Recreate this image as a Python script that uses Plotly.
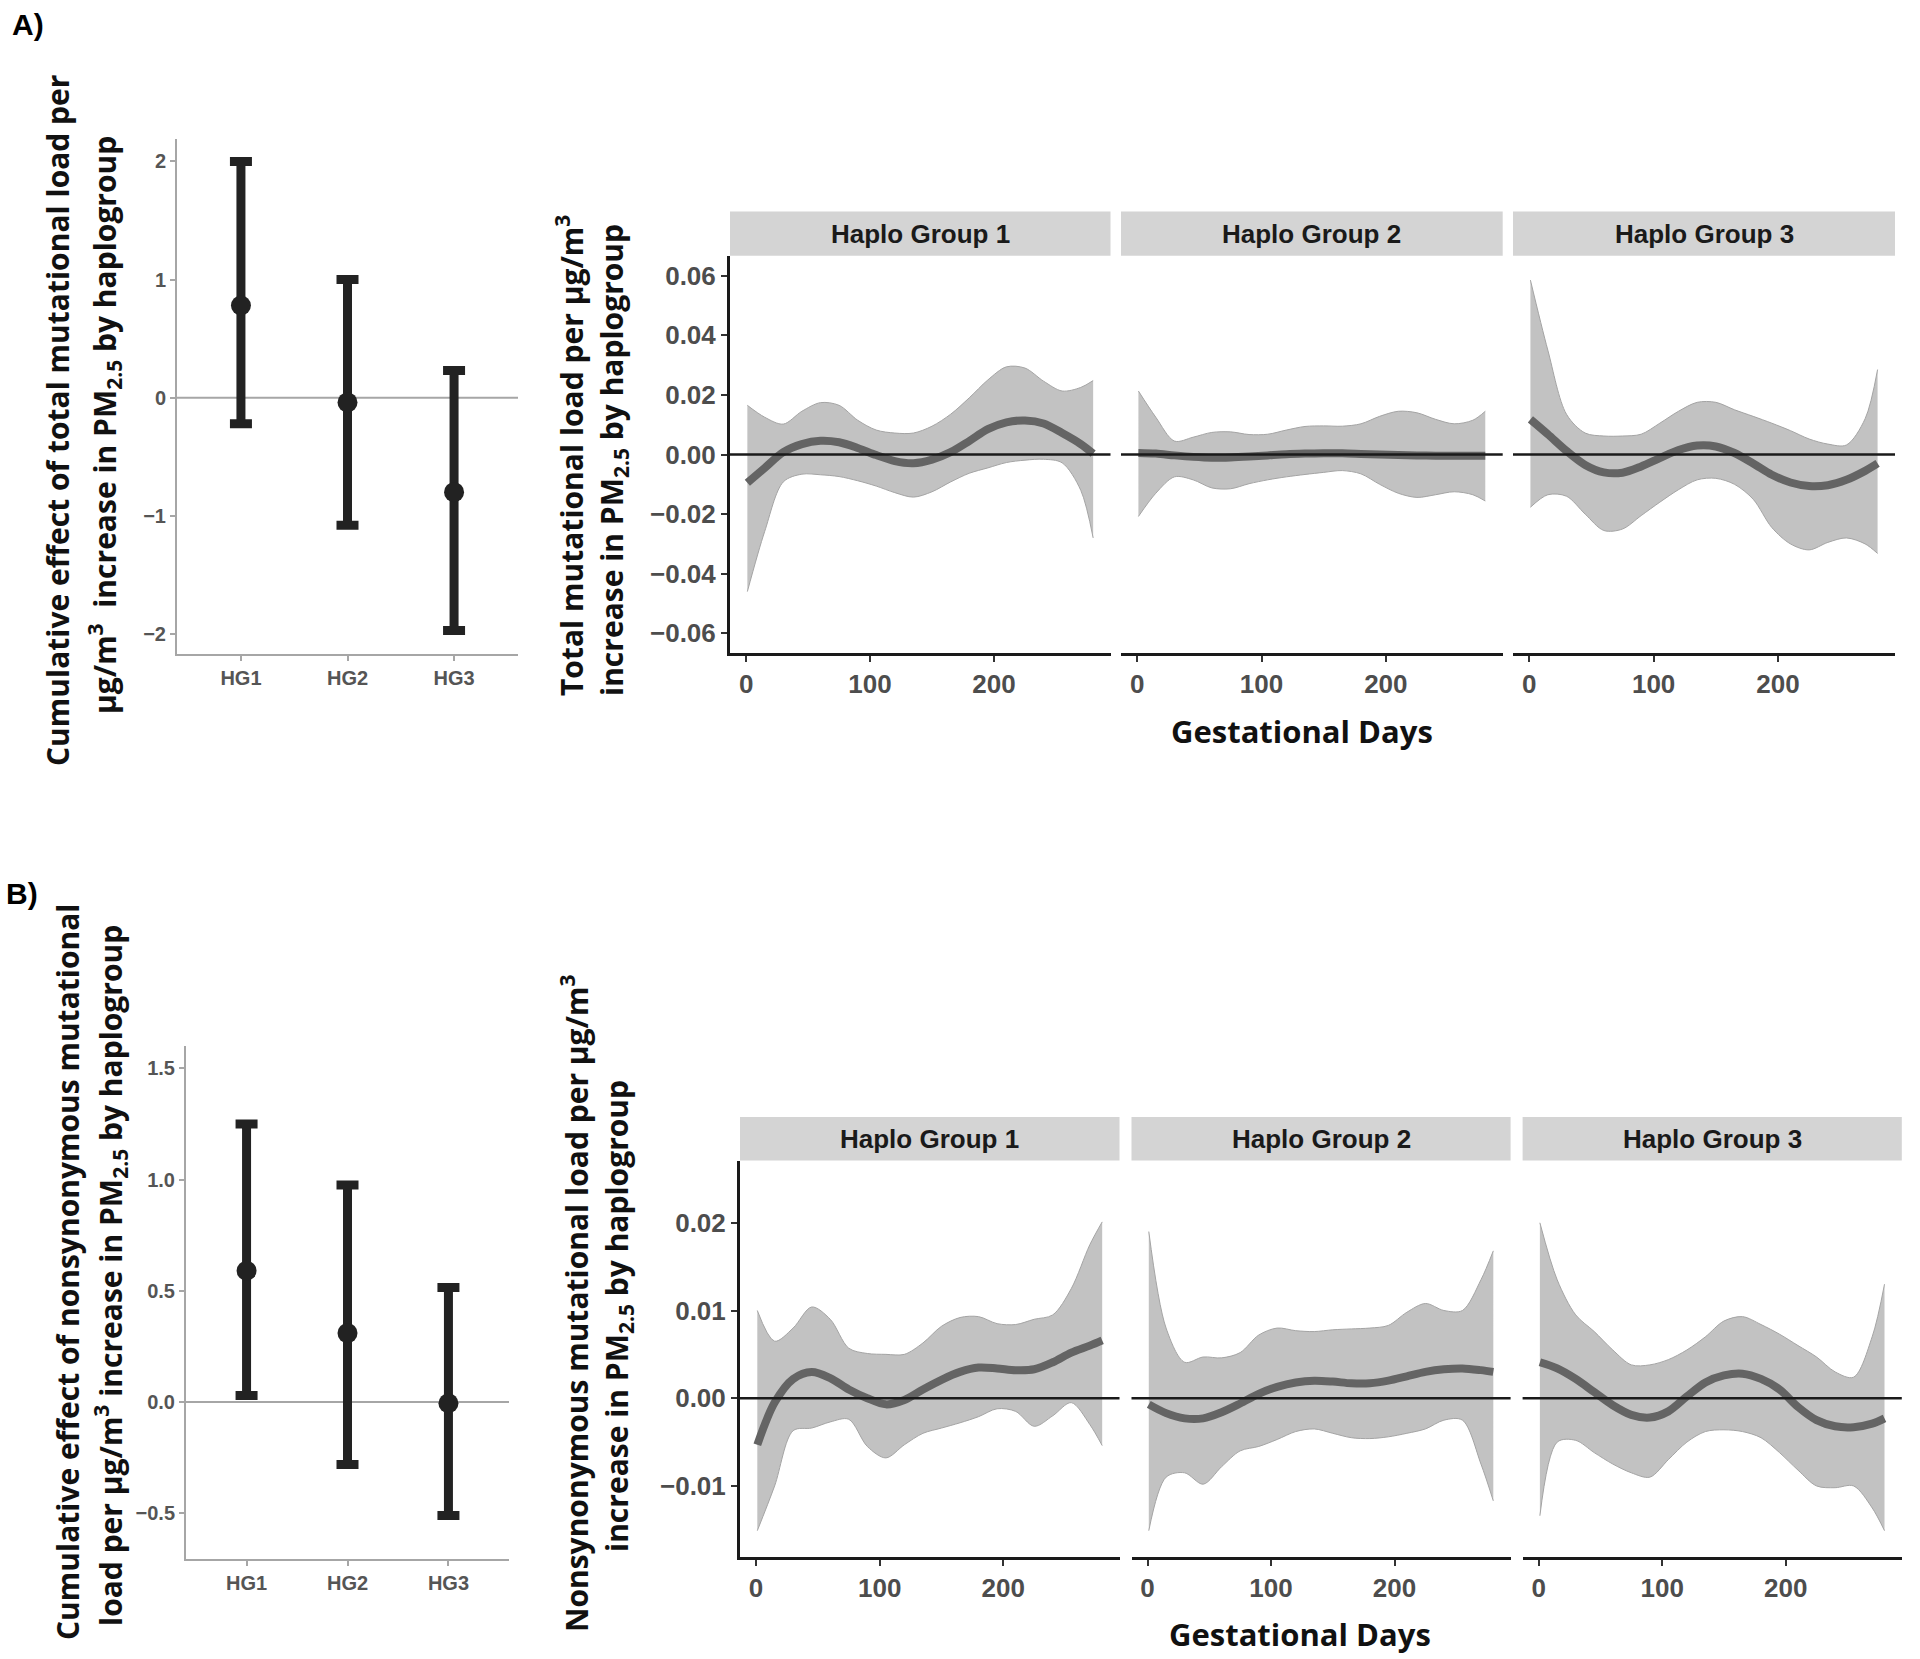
import plotly.graph_objects as go

W, H = 1920, 1659

# ---------------- data ----------------
GROUPS = ["HG1", "HG2", "HG3"]
FACET_LABELS = ["Haplo Group 1", "Haplo Group 2", "Haplo Group 3"]

# Panel A (left): cumulative effect, total mutational load
A_CUM_EST = [0.78, -0.04, -0.80]
A_CUM_LO = [-0.22, -1.08, -1.97]
A_CUM_HI = [2.00, 1.00, 0.23]
A_Y_TICKS = [-2, -1, 0, 1, 2]

# Panel B (left): cumulative effect, nonsynonymous mutational load
B_CUM_EST = [0.59, 0.31, -0.005]
B_CUM_LO = [0.03, -0.28, -0.51]
B_CUM_HI = [1.25, 0.975, 0.515]
B_Y_TICKS = [-0.5, 0.0, 0.5, 1.0, 1.5]

# Gestational day grid for the distributed-lag curves
DAYS = [1, 15, 30, 45, 60, 75, 90, 105, 120, 135, 150, 165, 180, 195, 210, 225, 240, 255, 270, 280]
X_TICKS = [0, 100, 200]
A_FACET_Y_TICKS = [-0.06, -0.04, -0.02, 0.0, 0.02, 0.04, 0.06]
B_FACET_Y_TICKS = [-0.01, 0.0, 0.01, 0.02]

# Panel A facets: total mutational load
A_HG1_FIT = [-0.0095, -0.0045, 0.0008, 0.0035, 0.0046, 0.0041, 0.0022, -0.0002, -0.0022, -0.0029,
             -0.0017, 0.0008, 0.0045, 0.0085, 0.0108, 0.0114, 0.0104, 0.0072, 0.0035, 0.0003]
A_HG1_UP = [0.0165, 0.0125, 0.0102, 0.0145, 0.0174, 0.0165, 0.0115, 0.0082, 0.0072, 0.0072,
            0.0095, 0.0135, 0.0190, 0.0250, 0.0294, 0.0290, 0.0246, 0.0213, 0.0225, 0.0248]
A_HG1_LOW = [-0.0460, -0.0258, -0.0092, -0.0066, -0.0068, -0.0074, -0.0088, -0.0106, -0.0128, -0.0143,
             -0.0125, -0.0092, -0.0063, -0.0045, -0.0027, -0.0019, -0.0016, -0.0028, -0.0120, -0.0280]

A_HG2_FIT = [0.0005, 0.0003, -0.0003, -0.0008, -0.0011, -0.0010, -0.0007, -0.0003, 0.0001, 0.0003,
             0.0004, 0.0004, 0.0002, 0.0000, -0.0002, -0.0003, -0.0004, -0.0004, -0.0004, -0.0004]
A_HG2_UP = [0.0213, 0.0125, 0.0045, 0.0058, 0.0074, 0.0076, 0.0067, 0.0068, 0.0082, 0.0094,
            0.0096, 0.0095, 0.0103, 0.0128, 0.0145, 0.0140, 0.0118, 0.0103, 0.0115, 0.0145]
A_HG2_LOW = [-0.0208, -0.0130, -0.0075, -0.0085, -0.0112, -0.0115, -0.0098, -0.0085, -0.0075, -0.0067,
             -0.0060, -0.0054, -0.0065, -0.0100, -0.0130, -0.0144, -0.0135, -0.0125, -0.0135, -0.0156]

A_HG3_FIT = [0.0118, 0.0068, 0.0012, -0.0035, -0.0060, -0.0061, -0.0040, -0.0012, 0.0015, 0.0030,
             0.0027, 0.0005, -0.0030, -0.0068, -0.0094, -0.0106, -0.0103, -0.0085, -0.0055, -0.0030]
A_HG3_UP = [0.0585, 0.0350, 0.0135, 0.0072, 0.0062, 0.0062, 0.0068, 0.0105, 0.0145, 0.0175,
            0.0175, 0.0150, 0.0128, 0.0105, 0.0080, 0.0052, 0.0035, 0.0032, 0.0120, 0.0285]
A_HG3_LOW = [-0.0177, -0.0135, -0.0140, -0.0200, -0.0255, -0.0250, -0.0205, -0.0160, -0.0118, -0.0085,
             -0.0080, -0.0100, -0.0150, -0.0245, -0.0300, -0.0320, -0.0295, -0.0280, -0.0300, -0.0332]

# Panel B facets: nonsynonymous mutational load
B_HG1_FIT = [-0.0053, -0.0005, 0.0022, 0.0030, 0.0023, 0.0010, 0.0000, -0.0007, -0.0002, 0.0010,
             0.0021, 0.0030, 0.0035, 0.0034, 0.0032, 0.0033, 0.0041, 0.0052, 0.0060, 0.0066]
B_HG1_UP = [0.0100, 0.0065, 0.0080, 0.0104, 0.0090, 0.0057, 0.0051, 0.0050, 0.0050, 0.0063,
            0.0082, 0.0092, 0.0093, 0.0085, 0.0084, 0.0090, 0.0095, 0.0125, 0.0175, 0.0201]
B_HG1_LOW = [-0.0151, -0.0100, -0.0037, -0.0034, -0.0027, -0.0024, -0.0055, -0.0068, -0.0053, -0.0040,
             -0.0034, -0.0028, -0.0021, -0.0012, -0.0015, -0.0032, -0.0020, -0.0005, -0.0030, -0.0054]

B_HG2_FIT = [-0.0007, -0.0017, -0.0023, -0.0023, -0.0016, -0.0006, 0.0005, 0.0013, 0.0018, 0.0020,
             0.0019, 0.0017, 0.0017, 0.0020, 0.0025, 0.0030, 0.0033, 0.0034, 0.0032, 0.0030]
B_HG2_UP = [0.0190, 0.0080, 0.0041, 0.0047, 0.0046, 0.0052, 0.0072, 0.0080, 0.0077, 0.0076,
            0.0078, 0.0079, 0.0080, 0.0083, 0.0098, 0.0108, 0.0100, 0.0100, 0.0135, 0.0168]
B_HG2_LOW = [-0.0151, -0.0090, -0.0085, -0.0098, -0.0078, -0.0060, -0.0055, -0.0047, -0.0038, -0.0035,
             -0.0040, -0.0045, -0.0046, -0.0044, -0.0040, -0.0035, -0.0025, -0.0025, -0.0075, -0.0117]

B_HG3_FIT = [0.0041, 0.0034, 0.0022, 0.0007, -0.0008, -0.0019, -0.0022, -0.0015, 0.0002, 0.0018,
             0.0026, 0.0028, 0.0022, 0.0010, -0.0010, -0.0025, -0.0032, -0.0033, -0.0029, -0.0023]
B_HG3_UP = [0.0200, 0.0135, 0.0095, 0.0076, 0.0055, 0.0038, 0.0038, 0.0044, 0.0055, 0.0070,
            0.0088, 0.0093, 0.0084, 0.0073, 0.0060, 0.0047, 0.0030, 0.0024, 0.0070, 0.0130]
B_HG3_LOW = [-0.0134, -0.0050, -0.0048, -0.0062, -0.0075, -0.0085, -0.0090, -0.0070, -0.0050, -0.0038,
             -0.0036, -0.0038, -0.0045, -0.0062, -0.0082, -0.0100, -0.0102, -0.0100, -0.0125, -0.0151]

A_FACETS = [(A_HG1_FIT, A_HG1_LOW, A_HG1_UP), (A_HG2_FIT, A_HG2_LOW, A_HG2_UP), (A_HG3_FIT, A_HG3_LOW, A_HG3_UP)]
B_FACETS = [(B_HG1_FIT, B_HG1_LOW, B_HG1_UP), (B_HG2_FIT, B_HG2_LOW, B_HG2_UP), (B_HG3_FIT, B_HG3_LOW, B_HG3_UP)]

# ---------------- layout helpers ----------------
def px(x):
    return x / W


def py(y):
    return 1 - y / H


TITLE_FONT = dict(family="Open Sans", size=30, color="#111111", weight="bold")
TICK_SMALL = dict(family="Liberation Sans, Arial", size=20, color="#555555", weight="bold")
TICK_BIG = dict(family="Liberation Sans, Arial", size=26, color="#4d4d4d", weight="bold")
STRIP_FONT = dict(family="Liberation Sans, Arial", size=26, color="#1a1a1a", weight="bold")

FIT_COLOR = "#646464"
BAND_FILL = "#c2c2c2"
BAND_EDGE = "#a4a4a4"
STRIP_FILL = "#d4d4d4"

fig = go.Figure()
layout = {}
shapes = []
annotations = []

# ---------------- left cumulative panels ----------------
left_specs = [
    (1, (177, 518), (139, 654), A_CUM_EST, A_CUM_LO, A_CUM_HI, A_Y_TICKS, [-2.17, 2.19], "d"),
    (2, (186, 509), (1046, 1559), B_CUM_EST, B_CUM_LO, B_CUM_HI, B_Y_TICKS, [-0.705, 1.60], ".1f"),
]
for idx, xd, yd, est, lo, hi, yt, yr, fmt in left_specs:
    xa = "x" if idx == 1 else f"x{idx}"
    ya = "y" if idx == 1 else f"y{idx}"
    fig.add_trace(go.Scatter(
        x=GROUPS, y=est, mode="markers", xaxis=xa, yaxis=ya,
        marker=dict(size=20, color="#222222"),
        error_y=dict(type="data", symmetric=False,
                     array=[h - e for h, e in zip(hi, est)],
                     arrayminus=[e - l for e, l in zip(est, lo)],
                     color="#222222", thickness=9, width=11),
        showlegend=False, hoverinfo="skip"))
    sfx = "" if idx == 1 else str(idx)
    layout["xaxis" + sfx] = dict(
        domain=[px(xd[0]), px(xd[1])], anchor=ya, type="category",
        categoryorder="array", categoryarray=GROUPS, range=[-0.6, 2.6],
        showline=True, linecolor="#a6a6a6", linewidth=2, ticks="outside",
        ticklen=5, tickwidth=2, tickcolor="#a6a6a6", tickfont=TICK_SMALL,
        showgrid=False, zeroline=False, fixedrange=True)
    layout["yaxis" + sfx] = dict(
        domain=[py(yd[1]), py(yd[0])], anchor=xa, range=yr,
        tickvals=yt, tickformat=fmt, showline=True, linecolor="#a6a6a6",
        linewidth=2, ticks="outside", ticklen=5, tickwidth=2, tickcolor="#a6a6a6",
        tickfont=TICK_SMALL, showgrid=False, zeroline=False, fixedrange=True)
    shapes.append(dict(type="line", xref=xa + " domain", x0=0, x1=1, yref=ya, y0=0, y1=0,
                       line=dict(color="#a6a6a6", width=2), layer="below"))

# ---------------- facet panels ----------------
facet_rows = [
    (3, A_FACETS, [(730, 1110.5), (1121, 1502.7), (1513, 1895)], (256, 653), (211.4, 255.8),
     [-0.0666, 0.0666], A_FACET_Y_TICKS),
    (6, B_FACETS, [(740, 1119.5), (1131.5, 1510.6), (1522.6, 1901.8)], (1160.5, 1557), (1117, 1160.5),
     [-0.0181, 0.0271], B_FACET_Y_TICKS),
]
for start, facets, xdoms, yd, strip, yr, yt in facet_rows:
    for k, ((fit, low, up), xd, lab) in enumerate(zip(facets, xdoms, FACET_LABELS)):
        idx = start + k
        xa, ya = f"x{idx}", f"y{idx}"
        fig.add_trace(go.Scatter(x=DAYS, y=low, xaxis=xa, yaxis=ya, mode="lines",
                                 line=dict(color=BAND_EDGE, width=1, shape="spline", smoothing=0.9),
                                 showlegend=False, hoverinfo="skip"))
        fig.add_trace(go.Scatter(x=DAYS, y=up, xaxis=xa, yaxis=ya, mode="lines",
                                 line=dict(color=BAND_EDGE, width=1, shape="spline", smoothing=0.9),
                                 fill="tonexty", fillcolor=BAND_FILL,
                                 showlegend=False, hoverinfo="skip"))
        fig.add_trace(go.Scatter(x=DAYS, y=fit, xaxis=xa, yaxis=ya, mode="lines",
                                 line=dict(color=FIT_COLOR, width=8, shape="spline", smoothing=0.9),
                                 showlegend=False, hoverinfo="skip"))
        first = k == 0
        layout[f"xaxis{idx}"] = dict(
            domain=[px(xd[0]), px(xd[1])], anchor=ya, range=[-13, 294],
            tickvals=X_TICKS, showline=True, linecolor="#1a1a1a", linewidth=3,
            ticks="outside", ticklen=6, tickwidth=2, tickcolor="#333333",
            tickfont=TICK_BIG, showgrid=False, zeroline=False, fixedrange=True)
        layout[f"yaxis{idx}"] = dict(
            domain=[py(yd[1]), py(yd[0])], anchor=xa, range=yr,
            tickvals=yt if first else [], tickformat=".2f", showticklabels=first, showline=first,
            linecolor="#1a1a1a", linewidth=3, ticks="outside" if first else "",
            ticklen=6, tickwidth=2, tickcolor="#333333", tickfont=TICK_BIG,
            showgrid=False, zeroline=False, fixedrange=True)
        shapes.append(dict(type="line", xref=xa + " domain", x0=0, x1=1, yref=ya, y0=0, y1=0,
                           line=dict(color="#1a1a1a", width=2.5), layer="above"))
        shapes.append(dict(type="rect", xref="paper", yref="paper",
                           x0=px(xd[0]), x1=px(xd[1]), y0=py(strip[1]), y1=py(strip[0]),
                           fillcolor=STRIP_FILL, line=dict(width=0), layer="below"))
        annotations.append(dict(text=lab, xref="paper", yref="paper",
                                x=px((xd[0] + xd[1]) / 2), y=py((strip[0] + strip[1]) / 2),
                                xanchor="center", yanchor="middle", showarrow=False, font=STRIP_FONT))

# ---------------- titles / labels ----------------
def vtitle(text, x, y):
    annotations.append(dict(text=text, xref="paper", yref="paper", x=px(x), y=py(y),
                            xanchor="center", yanchor="middle", textangle=-90,
                            showarrow=False, font=TITLE_FONT))


vtitle("Cumulative effect of total mutational load per", 57, 421)
vtitle("μg/m<sup>3</sup>  increase in PM<sub>2.5</sub> by haplogroup", 104, 425)
vtitle("Total mutational load per μg/m<sup>3</sup>", 570, 456)
vtitle("increase in PM<sub>2.5</sub> by haplogroup", 613, 460)
vtitle("Cumulative effect of nonsynonymous mutational", 67, 1272)
vtitle("load per μg/m<sup>3</sup> increase in PM<sub>2.5</sub> by haplogroup", 110, 1276)
vtitle("Nonsynonymous mutational load per μg/m<sup>3</sup>", 575, 1304)
vtitle("increase in PM<sub>2.5</sub> by haplogroup", 618, 1316)

for txt, x, y in [("Gestational Days", 1302, 731), ("Gestational Days", 1300, 1634)]:
    annotations.append(dict(text=txt, xref="paper", yref="paper", x=px(x), y=py(y),
                            xanchor="center", yanchor="middle", showarrow=False,
                            font=dict(family="Open Sans", size=31, color="#111111", weight="bold")))

for txt, x, y in [("A)", 28, 25), ("B)", 22, 893)]:
    annotations.append(dict(text=txt, xref="paper", yref="paper", x=px(x), y=py(y),
                            xanchor="center", yanchor="middle", showarrow=False,
                            font=dict(family="Liberation Sans, Arial", size=30, color="#000000", weight="bold")))

fig.update_layout(
    width=W, height=H, margin=dict(l=0, r=0, t=0, b=0),
    paper_bgcolor="white", plot_bgcolor="white", showlegend=False,
    shapes=shapes, annotations=annotations, **layout)

fig.write_html("out.html", config={"displayModeBar": False},
               post_script="document.body.style.margin='0';document.body.style.overflow='hidden';")
